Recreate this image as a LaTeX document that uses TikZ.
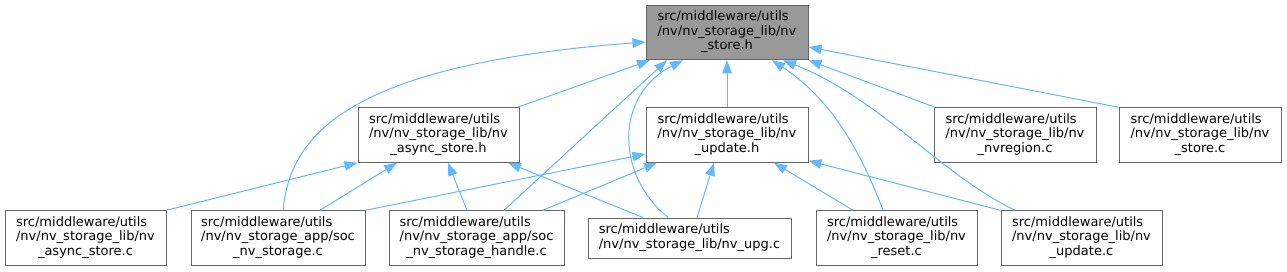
\documentclass[tikz,border=0pt]{standalone}
\usepackage{fontspec}
\setmainfont{DejaVu Sans}
\usetikzlibrary{arrows.meta}
\definecolor{edgec}{HTML}{63B8FF}
\definecolor{bordc}{HTML}{666666}
\definecolor{rootc}{HTML}{999999}
\newcommand{\dxlabel}[3]{\begin{tabular}{@{}l@{}}#1\\#2\\\multicolumn{1}{@{}c@{}}{#3}\end{tabular}}
\newcommand{\dxlabeltwo}[2]{\begin{tabular}{@{}l@{}}#1\\#2\end{tabular}}
\begin{document}
\begin{tikzpicture}[x=1pt,y=-1pt,
  box/.style={draw=bordc,line width=1pt,fill=white,inner sep=0pt,minimum height=54.5pt,
    font=\fontsize{13}{14.5}\selectfont},
  rootbox/.style={box,fill=rootc},
  edge/.style={draw=edgec,line width=1pt,-{Triangle[length=13pt,width=9.5pt]}}]
\useasboundingbox (0,0) rectangle (1287,271);
% top
\node[rootbox,minimum width=162pt] (T) at (727,32.5) {\dxlabel{src/middleware/utils}{/nv/nv\_storage\_lib/nv}{\_store.h}};
% middle row
\node[box,minimum width=161pt] (ash) at (438.5,135) {\dxlabel{src/middleware/utils}{/nv/nv\_storage\_lib/nv}{\_async\_store.h}};
\node[box,minimum width=162pt] (uh) at (727,135) {\dxlabel{src/middleware/utils}{/nv/nv\_storage\_lib/nv}{\_update.h}};
\node[box,minimum width=162pt] (nvr) at (1015,135) {\dxlabel{src/middleware/utils}{/nv/nv\_storage\_lib/nv}{\_nvregion.c}};
\node[box,minimum width=162pt] (sc) at (1200,135) {\dxlabel{src/middleware/utils}{/nv/nv\_storage\_lib/nv}{\_store.c}};
% bottom row
\node[box,minimum width=161pt] (asc) at (85.5,238) {\dxlabel{src/middleware/utils}{/nv/nv\_storage\_lib/nv}{\_async\_store.c}};
\node[box,minimum width=174pt] (sns) at (278,238) {\dxlabel{src/middleware/utils}{/nv/nv\_storage\_app/soc}{\_nv\_storage.c}};
\node[box,minimum width=175pt] (snsh) at (476.5,238) {\dxlabel{src/middleware/utils}{/nv/nv\_storage\_app/soc}{\_nv\_storage\_handle.c}};
\node[box,minimum width=203pt,minimum height=40pt] (upg) at (689.5,238) {\dxlabeltwo{src/middleware/utils}{/nv/nv\_storage\_lib/nv\_upg.c}};
\node[box,minimum width=161pt] (rst) at (896.5,238) {\dxlabel{src/middleware/utils}{/nv/nv\_storage\_lib/nv}{\_reset.c}};
\node[box,minimum width=161pt] (uc) at (1081.5,238) {\dxlabel{src/middleware/utils}{/nv/nv\_storage\_lib/nv}{\_update.c}};
% edges to nv_store.h
\draw[edge] ([xshift=-2pt]ash.north east) -- ([xshift=-77pt]T.south);
\draw[edge] ([xshift=5pt]sns.north) .. controls +(7,-71) and +(-306,23) .. ([yshift=-9.5pt]T.west);
\draw[edge] ([xshift=27.5pt]snsh.north) -- ([xshift=-60pt]T.south);
\draw[edge] ([xshift=-21.5pt]upg.north) .. controls +(-53,-43) and +(-68,35) .. ([xshift=-44pt]T.south);
\draw[edge] (uh.north) -- (T.south);
\draw[edge] ([xshift=-13.5pt]rst.north) .. controls +(-23,-61) and +(58,38) .. ([xshift=45pt]T.south);
\draw[edge] ([xshift=-66.5pt]uc.north) .. controls +(-75,-36) and +(97,38) .. ([xshift=56pt]T.south);
\draw[edge] ([xshift=-80pt]nvr.north) -- (T.south east);
\draw[edge] (sc.north west) -- ([yshift=-14.5pt]T.east);
% edges to nv_async_store.h
\draw[edge] (asc.north east) -- (ash.south west);
\draw[edge] ([xshift=42pt]sns.north) -- ([xshift=-41.5pt]ash.south);
\draw[edge] ([xshift=-9.5pt]snsh.north) -- ([xshift=9.5pt]ash.south);
\draw[edge] ([xshift=-46.5pt]upg.north) -- ([xshift=69.5pt]ash.south);
% edges to nv_update.h
\draw[edge] (sns.north east) -- ([yshift=-19pt]uh.west);
\draw[edge] ([xshift=66.5pt]snsh.north) -- ([xshift=-70pt]uh.south);
\draw[edge] ([xshift=7.5pt]upg.north) -- ([xshift=-13pt]uh.south);
\draw[edge] ([xshift=-43.5pt]rst.north) -- ([xshift=47pt]uh.south);
\draw[edge] (uc.north west) -- ([yshift=2pt]uh.south east);
\end{tikzpicture}
\end{document}
